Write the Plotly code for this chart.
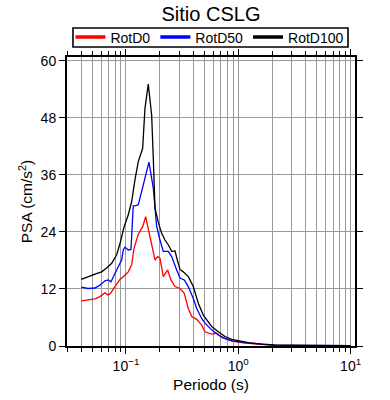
import plotly.graph_objects as go

# Period (s) and PSA (cm/s^2)
period_d0 = [0.040, 0.046, 0.053, 0.0587, 0.065, 0.0696, 0.0735, 0.0798, 0.0884, 0.098,
             0.1048, 0.1124, 0.1178, 0.1287, 0.1408, 0.1497, 0.158, 0.1693, 0.1813, 0.1916,
             0.2008, 0.2148, 0.2351, 0.2516, 0.2732, 0.3026, 0.3304, 0.3588, 0.3846, 0.4262,
             0.4722, 0.5052, 0.5797, 0.6423, 0.7115, 0.8147, 0.9346, 1.147, 2.05, 4.35, 10.0]
psa_d0 = [9.5, 9.7, 9.9, 10.4, 11.2, 10.7, 11.2, 12.5, 14.0, 14.9,
          15.6, 17.1, 20.5, 23.5, 25.1, 27.2, 24.6, 20.9, 18.1, 18.8,
          18.5, 14.6, 16.0, 13.9, 12.5, 12.1, 11.1, 7.9, 6.2, 5.6,
          4.4, 3.0, 2.5, 2.7, 1.8, 1.3, 0.9, 0.6, 0.15, 0.08, 0.03]

period_d50 = [0.040, 0.046, 0.053, 0.0587, 0.065, 0.0696, 0.0735, 0.0771, 0.0827, 0.0884,
              0.0916, 0.0946, 0.098, 0.1048, 0.1108, 0.1161, 0.1203, 0.1287, 0.1426, 0.1476,
              0.1602, 0.1751, 0.1877, 0.2008, 0.2148, 0.238, 0.2552, 0.2828, 0.3026, 0.3304,
              0.3588, 0.3975, 0.4262, 0.4722, 0.5052, 0.5797, 0.6636, 0.7612, 0.8734, 1.0,
              1.271, 2.05, 4.35, 10.0]
psa_d50 = [12.4, 12.1, 12.2, 12.8, 13.7, 13.9, 13.5, 14.6, 16.1, 17.4,
           18.1, 20.2, 20.8, 20.2, 20.3, 29.5, 29.5, 29.7, 33.9, 35.5,
           38.7, 33.2, 25.1, 22.3, 19.9, 19.9, 18.8, 16.0, 14.3, 13.9,
           12.5, 10.0, 7.9, 5.8, 4.8, 3.4, 2.3, 1.6, 1.1, 0.9,
           0.6, 0.2, 0.1, 0.05]

period_d100 = [0.040, 0.046, 0.053, 0.0607, 0.0673, 0.0746, 0.0827, 0.0884, 0.096, 0.1048,
               0.1124, 0.1203, 0.1287, 0.1408, 0.1476, 0.158, 0.1693, 0.1751, 0.1813, 0.194,
               0.2079, 0.2225, 0.238, 0.2552, 0.2732, 0.2863, 0.3026, 0.3237, 0.3588, 0.3975,
               0.4405, 0.488, 0.5797, 0.6636, 0.7612, 0.8734, 1.0, 1.228, 1.616, 2.123,
               4.35, 10.0]
psa_d100 = [14.0, 14.6, 15.1, 15.6, 16.4, 17.4, 19.2, 21.5, 25.0, 27.6,
            30.4, 35.0, 38.8, 41.6, 50.0, 55.1, 48.6, 39.5, 29.0, 26.0,
            23.7, 22.3, 21.3, 19.9, 20.0, 18.1, 16.1, 15.6, 14.6, 12.5,
            9.0, 6.5, 4.1, 3.0, 2.0, 1.4, 1.1, 0.7, 0.4, 0.25,
            0.14, 0.07]

series_names = ["RotD0", "RotD50", "RotD100"]
series_colors = ["#ff0000", "#0000ff", "#000000"]

x_tickvals = [0.1, 1, 10]
x_ticktext = ["10<sup>\u22121</sup>", "10<sup>0</sup>", "10<sup>1</sup>"]
y_tickvals = [0, 12, 24, 36, 48, 60]

FONT = "Liberation Sans, Arial, Helvetica, sans-serif"

fig = go.Figure()
for name, color, xs, ys in zip(series_names, series_colors,
                               [period_d0, period_d50, period_d100],
                               [psa_d0, psa_d50, psa_d100]):
    fig.add_trace(go.Scatter(x=xs, y=ys, mode="lines", name=name, showlegend=False,
                             legendgroup=name, line=dict(color=color, width=1.3)))
# legend entries with thicker line swatches
for name, color in zip(series_names, series_colors):
    fig.add_trace(go.Scatter(x=[None], y=[None], mode="lines", name=name,
                             legendgroup=name, line=dict(color=color, width=3.5)))

grid_col = "#9a9a9a"
fig.update_layout(
    width=390, height=400,
    margin=dict(l=67, r=35, t=57, b=54, autoexpand=False),
    paper_bgcolor="white", plot_bgcolor="white",
    font=dict(family=FONT, color="black", size=14),
    title=dict(text="Sitio CSLG", x=0.5, xref="paper", xanchor="center",
               y=1 - 14 / 400, yref="container", yanchor="middle",
               font=dict(size=20, family=FONT, color="black")),
    legend=dict(orientation="h", x=0.012, xanchor="left", y=1.0675, yanchor="middle",
                borderwidth=0, bgcolor="rgba(0,0,0,0)",
                font=dict(size=14, family=FONT), tracegroupgap=0,
                itemwidth=30),
    showlegend=True,
    shapes=[dict(type="rect", xref="paper", yref="paper",
                 x0=0.0208, x1=0.9757, y0=1.0346, y1=1.1003,
                 line=dict(color="black", width=1.6), fillcolor="rgba(0,0,0,0)",
                 layer="above")],
)
fig.update_xaxes(
    type="log", range=[-1.525, 1.039], automargin=False,
    tickmode="array", tickvals=x_tickvals, ticktext=x_ticktext,
    ticks="outside", ticklen=6, tickwidth=1, tickcolor="black",
    showgrid=True, gridcolor=grid_col, gridwidth=1,
    minor=dict(dtick="D1", showgrid=True, gridcolor=grid_col, gridwidth=1,
               ticks="outside", ticklen=4, tickcolor="black"),
    showline=True, linecolor="black", linewidth=2, mirror="allticks",
    zeroline=False,
    title=dict(text="Periodo (s)", font=dict(size=15.5, family=FONT), standoff=6),
    tickfont=dict(size=14, family=FONT),
)
fig.update_yaxes(
    range=[0, 60.8], tickmode="array", tickvals=y_tickvals, automargin=False,
    ticks="outside", ticklen=6, tickwidth=1, tickcolor="black",
    showgrid=True, gridcolor=grid_col, gridwidth=1,
    showline=True, linecolor="black", linewidth=2, mirror="allticks",
    zeroline=False,
    title=dict(text="PSA (cm/s<sup>2</sup>)", font=dict(size=15.5, family=FONT), standoff=4),
    tickfont=dict(size=14, family=FONT),
)

fig.write_html("out.html", config={"displayModeBar": False},
               post_script="document.body.style.margin='0';")
